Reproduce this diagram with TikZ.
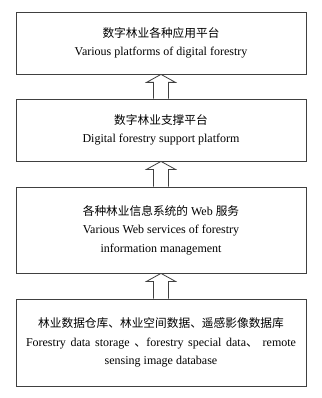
\documentclass[tikz,border=0pt]{standalone}
\usepackage{fontspec}
\setmainfont{Liberation Serif}
\newfontfamily\cjk{Noto Sans CJK SC}
\newcommand{\zh}[1]{{\cjk\fontsize{11.7}{18.5}\selectfont #1}}
\begin{document}
\begin{tikzpicture}[x=1pt,y=-1pt,
  layer/.style={draw=black!75,line width=0.8pt,minimum width=290pt,align=center,inner sep=0pt,
    font=\fontsize{12}{18.5}\selectfont},
  hollow/.style={draw=black!75,line width=0.8pt,fill=white}]
\useasboundingbox (0,0) rectangle (321,398);
\node[layer,minimum height=62pt] (b1) at (161,43) {\zh{数字林业各种应用平台}\\Various platforms of digital forestry};
\node[layer,minimum height=62pt] (b2) at (161,130) {\zh{数字林业支撑平台}\\Digital forestry support platform};
\node[layer,minimum height=86pt] (b3) at (161,230) {\zh{各种林业信息系统的} Web \zh{服务}\\Various Web services of forestry\\information management};
\node[layer,minimum height=87pt] (b4) at (161,342.5) {\zh{林业数据仓库、林业空间数据、遥感影像数据库}\\\makebox[270pt][s]{Forestry data storage {\cjk 、}forestry special data{\cjk 、} remote}\\sensing image database};
\foreach \lo/\up in {b2/b1,b3/b2,b4/b3}{
  \draw[hollow] ([xshift=-7.5pt]\lo.north) -- ([xshift=-7.5pt,yshift=-8pt]\up.south) -- ([xshift=-14.5pt,yshift=-8pt]\up.south) -- (\up.south) -- ([xshift=14.5pt,yshift=-8pt]\up.south) -- ([xshift=7.5pt,yshift=-8pt]\up.south) -- ([xshift=7.5pt]\lo.north);
}
\end{tikzpicture}
\end{document}
